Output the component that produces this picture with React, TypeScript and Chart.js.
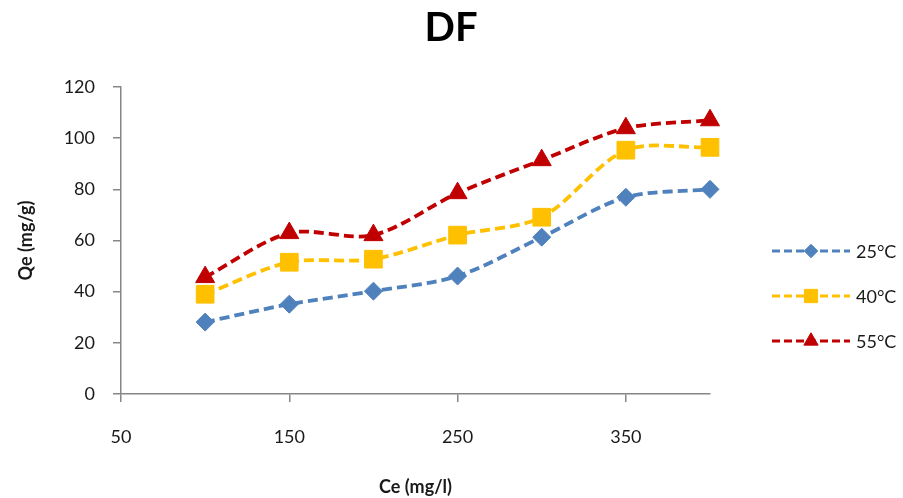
import React, { useEffect, useRef } from 'react';
import { Chart, registerables } from 'chart.js';
import { drawPoint } from 'chart.js/helpers';

Chart.register(...registerables);

const concentrations = [100, 150, 200, 250, 300, 350, 400];
const qe25 = [28.1, 35.1, 40.2, 46.1, 61.3, 76.9, 80.0];
const qe40 = [39.0, 51.5, 52.7, 62.1, 69.1, 95.3, 96.4];
const qe55 = [45.7, 62.9, 62.1, 78.5, 91.4, 103.9, 107.0];
const seriesLabels = ['25°C', '40°C', '55°C'];
const xTicks = [50, 150, 250, 350];
const yTicks = [0, 20, 40, 60, 80, 100, 120];
const chartTitle = 'DF';
const xTitle = 'Ce (mg/l)';
const yTitle = 'Qe (mg/g)';

const FONT = 'Lato, "Open Sans", sans-serif';
const AXIS = '#868686';
const TEXT = '#1a1a1a';

const styles = [
  { color: '#4F81BD', point: 'rectRot', radius: 9 },
  { color: '#FFC000', point: 'rect', radius: 12.5 },
  { color: '#C00000', point: 'triangle', radius: 11 },
];

const makeDataset = (label: string, values: number[], i: number) => ({
  label,
  data: concentrations.map((x, k) => ({ x, y: values[k] })),
  borderColor: styles[i].color,
  backgroundColor: styles[i].color,
  borderWidth: 3.8,
  borderDash: [10, 5],
  tension: 0.3,
  pointStyle: styles[i].point,
  pointRadius: styles[i].radius,
  pointBackgroundColor: styles[i].color,
  pointBorderColor: styles[i].color,
  pointBorderWidth: 1,
  clip: false,
});

const titleAndLegend = {
  id: 'titleAndLegend',
  afterDraw(chart: any) {
    const ctx = chart.ctx as CanvasRenderingContext2D;
    ctx.save();
    ctx.fillStyle = '#000';
    ctx.font = `bold 40px ${FONT}`;
    ctx.textAlign = 'center';
    ctx.textBaseline = 'middle';
    ctx.fillText(chartTitle, 451, 28);
    ctx.restore();
    chart.data.datasets.forEach((ds: any, i: number) => {
      const y = 251 + i * 45;
      const st = styles[i];
      ctx.save();
      ctx.strokeStyle = st.color;
      ctx.lineWidth = 3;
      ctx.setLineDash([8, 4]);
      ctx.beginPath();
      ctx.moveTo(772, y);
      ctx.lineTo(850, y);
      ctx.stroke();
      ctx.setLineDash([]);
      ctx.fillStyle = st.color;
      ctx.strokeStyle = st.color;
      ctx.lineWidth = 1;
      drawPoint(ctx, { pointStyle: st.point as any, rotation: 0, radius: st.radius * 0.75, borderWidth: 1 }, 811, y);
      ctx.fillStyle = TEXT;
      ctx.font = `18px ${FONT}`;
      ctx.textAlign = 'left';
      ctx.textBaseline = 'middle';
      ctx.fillText(ds.label, 856, y + 1);
      ctx.restore();
    });
  },
};

export default function App() {
  const ref = useRef<HTMLCanvasElement>(null);
  useEffect(() => {
    const chart = new Chart(ref.current!, {
      type: 'line',
      data: {
        datasets: [
          makeDataset(seriesLabels[0], qe25, 0),
          makeDataset(seriesLabels[1], qe40, 1),
          makeDataset(seriesLabels[2], qe55, 2),
        ] as any,
      },
      options: {
        animation: false,
        responsive: false,
        devicePixelRatio: 1,
        layout: { padding: { top: 87, right: 193, bottom: 0, left: 0 } },
        plugins: {
          legend: { display: false },
          tooltip: { enabled: false },
          title: { display: false },
        },
        scales: {
          x: {
            type: 'linear',
            min: 50,
            max: 400,
            afterBuildTicks: (s: any) => {
              s.ticks = xTicks.map((v) => ({ value: v }));
            },
            afterFit: (s: any) => {
              s.height = 104;
            },
            grid: { display: true, drawOnChartArea: false, drawTicks: true, tickLength: 8, color: AXIS, lineWidth: 1.5 },
            border: { display: true, color: AXIS, width: 1.5 },
            ticks: { padding: 24, color: TEXT, font: { family: FONT, size: 18 }, maxRotation: 0, autoSkip: false },
            title: {
              display: true,
              text: xTitle,
              color: TEXT,
              font: { family: FONT, size: 18, weight: 'bold' },
              padding: { top: 0, bottom: 0 },
            },
          },
          y: {
            type: 'linear',
            min: 0,
            max: 120,
            afterBuildTicks: (s: any) => {
              s.ticks = yTicks.map((v) => ({ value: v }));
            },
            afterFit: (s: any) => {
              s.width = 121;
            },
            grid: { display: true, drawOnChartArea: false, drawTicks: true, tickLength: 8, color: AXIS, lineWidth: 1.5 },
            border: { display: true, color: AXIS, width: 1.5 },
            ticks: { padding: 18, color: TEXT, font: { family: FONT, size: 18 } },
            title: {
              display: true,
              text: yTitle,
              color: TEXT,
              font: { family: FONT, size: 18, weight: 'bold' },
              padding: { top: 15, bottom: 0 },
            },
          },
        },
      },
      plugins: [titleAndLegend],
    });
    return () => chart.destroy();
  }, []);
  return (
    <div style={{ position: 'fixed', left: 0, top: 0, width: 903, height: 498, background: '#fff' }}>
      <canvas ref={ref} width={903} height={498} style={{ display: 'block' }} />
    </div>
  );
}
